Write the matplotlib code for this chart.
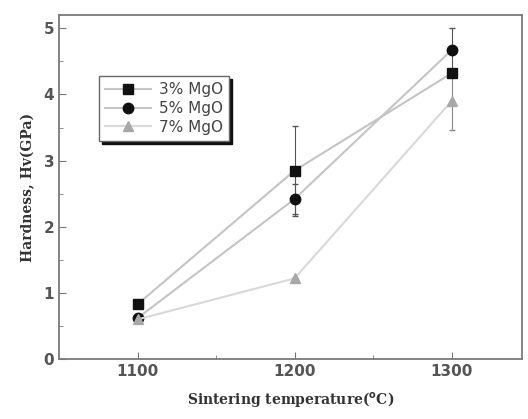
import numpy as np
import matplotlib.pyplot as plt
from matplotlib.ticker import MultipleLocator
from matplotlib.lines import Line2D

# data
temps = [1100, 1200, 1300]
mgo3 = [0.83, 2.85, 4.32]
mgo5 = [0.62, 2.42, 4.67]
mgo7 = [0.60, 1.22, 3.90]
err3 = [0.0, 0.68, 0.0]
err5 = [0.0, 0.22, 0.33]
err7 = [0.0, 0.0, 0.44]
labels = ["3% MgO", "5% MgO", "7% MgO"]

fig = plt.figure(figsize=(5.28, 4.19), dpi=100)
ax = fig.add_axes([0.112, 0.143, 0.877, 0.821])

styles = [
    dict(marker="s", ms=6.5, mc="#111111", lc="#c4c4c4", ec="#555555"),
    dict(marker="o", ms=7.5, mc="#111111", lc="#c4c4c4", ec="#555555"),
    dict(marker="^", ms=6.5, mc="#a8a8a8", lc="#d8d8d8", ec="#888888"),
]
handles = []
for ys, es, st, lab in zip([mgo3, mgo5, mgo7], [err3, err5, err7], styles, labels):
    ax.errorbar(temps, ys, yerr=es, color=st["lc"], ecolor=st["ec"], elinewidth=0.8,
                capsize=2, marker=st["marker"], markersize=st["ms"],
                mfc=st["mc"], mec=st["mc"], lw=1.5)
    handles.append(Line2D([], [], color=st["lc"], lw=1.5, marker=st["marker"],
                          markersize=st["ms"], mfc=st["mc"], mec=st["mc"], label=lab))

ax.set_xlim(1050, 1345)
ax.set_ylim(0, 5.2)
ax.set_xticks(temps)
ax.xaxis.set_minor_locator(MultipleLocator(50))
ax.yaxis.set_major_locator(MultipleLocator(1))
ax.yaxis.set_minor_locator(MultipleLocator(0.5))
ax.tick_params(which="both", direction="in", color="#777777")
ax.tick_params(which="major", length=5)
ax.tick_params(which="minor", length=3)
for lab in ax.get_xticklabels() + ax.get_yticklabels():
    lab.set_fontsize(11)
    lab.set_fontweight("bold")
    lab.set_color("#555555")
for s in ax.spines.values():
    s.set_color("#7a7a7a")
    s.set_linewidth(1.3)

ax.set_xlabel("Sintering temperature($^{\\mathbf{o}}$C)", family="DejaVu Serif",
              fontweight="bold", fontsize=10, color="#333333", labelpad=8)
ax.set_ylabel("Hardness, Hv(GPa)", family="DejaVu Serif", fontweight="bold",
              fontsize=10, color="#333333", labelpad=6)

leg = ax.legend(handles=handles, loc="upper left", bbox_to_anchor=(0.07, 0.845),
                frameon=True, fancybox=False,
                shadow={"color": "#111111", "alpha": 1.0, "ox": 2, "oy": -2},
                fontsize=11, handlelength=3.0, borderpad=0.4, labelspacing=0.25,
                handletextpad=0.5)
leg.get_frame().set_edgecolor("#666666")
leg.get_frame().set_linewidth(1.0)
for t in leg.get_texts():
    t.set_color("#444444")

fig.savefig("out.png", dpi=100)
